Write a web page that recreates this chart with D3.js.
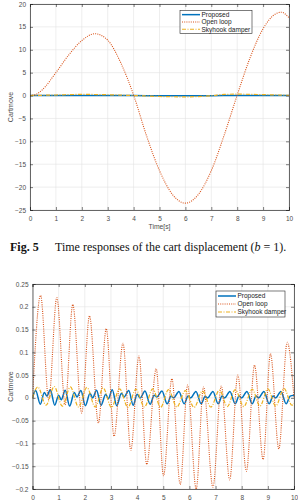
<!DOCTYPE html>
<meta charset="utf-8">
<style>
    body { margin: 0; background: #fff; }
    svg { display: block; }
    .tick text, .lbl { font-family: "Liberation Sans", Arial, sans-serif; fill: #4d4d4d; }
    .leg text { font-family: "Liberation Sans", Arial, sans-serif; fill: #1a1a1a; font-size: 6.5px; }
    .cap { font-family: "Liberation Serif", "Times New Roman", serif; font-size: 12px; fill: #111; }
</style>
<body>
<div id="main"></div>
<script src="https://cdn.jsdelivr.net/npm/d3@7/dist/d3.min.js"></script>
<script>
// ---- top chart: cart displacement (b = 1) ----
var topOpenT = [0, 0.25, 0.5, 1, 1.5, 2, 2.5, 3, 3.5, 4, 4.5, 5, 5.5, 6, 6.5, 7, 7.5, 8, 8.5, 9, 9.5, 9.7, 10];
var topOpenV = [0, 0.3, 1.4, 5.0, 8.9, 12.0, 13.5, 12.1, 7.2, 0.1, -8.8, -16.4, -21.6, -23.5, -21.6, -16.4, -8.6, 0.1, 8.3, 14.6, 17.9, 18.2, 17.0];
var topPropT = [0, 1, 2, 3, 4, 5, 6, 7, 8, 9, 10];
var topPropV = [0, 0.02, 0.03, 0.02, 0, -0.03, -0.04, -0.02, 0.02, 0.03, 0.02];
var topSkyT = [0, 1, 2, 3, 4, 5, 6, 7, 7.5, 8, 9, 10];
var topSkyV = [0, 0.12, 0.25, 0.18, 0, -0.2, -0.28, -0.05, 0.25, 0.3, 0.2, 0.05];

// ---- bottom chart ----
var botOpenT = [0, 0.31, 0.62, 0.93, 1.25, 1.54, 1.88, 2.18, 2.52, 2.82, 3.12, 3.46, 3.76, 4.07, 4.37, 4.73, 5.01, 5.33, 5.65, 5.93, 6.26, 6.54, 6.9, 7.22, 7.54, 7.85, 8.18, 8.49, 8.82, 9.1, 9.42, 9.74, 10];
var botOpenV = [0, 0.225, -0.004, 0.22, -0.015, 0.205, -0.033, 0.18, -0.055, 0.152, -0.084, 0.12, -0.115, 0.092, -0.146, 0.064, -0.171, 0.042, -0.19, 0.028, -0.2, 0.024, -0.196, 0.026, -0.18, 0.05, -0.161, 0.072, -0.135, 0.097, -0.112, 0.122, 0.0];
var botSkyT = [0, 0.2, 0.52, 0.83, 1.14, 1.45, 1.76, 2.08, 2.4, 2.7, 3.02, 3.33, 3.65, 3.95, 4.28, 4.6, 4.9, 5.2, 5.52, 5.85, 6.18, 6.5, 6.82, 7.15, 7.45, 7.75, 8.08, 8.4, 8.7, 9.0, 9.3, 9.62, 9.92, 10];
var botSkyV = [0, 0.024, -0.016, 0.025, -0.018, 0.024, -0.02, 0.023, -0.02, 0.022, -0.021, 0.02, -0.021, 0.019, -0.02, 0.02, -0.021, 0.018, -0.02, 0.016, -0.021, 0.015, -0.02, 0.017, -0.019, 0.018, -0.019, 0.019, -0.018, 0.02, -0.018, 0.021, -0.016, -0.012];
var botPropT = [0, 0.12, 0.3, 0.45, 0.55, 0.68, 0.85, 1.0, 1.1, 1.25, 1.42, 1.6, 1.7, 1.85, 2.02, 2.2, 2.3, 2.45, 2.62, 2.8, 2.9, 3.05, 3.22, 3.4, 3.5, 3.68, 3.85, 4.0, 4.12, 4.3, 4.5, 4.65, 4.75, 4.95, 5.15, 5.3, 5.4, 5.6, 5.8, 5.95, 6.05, 6.25, 6.45, 6.6, 6.7, 6.9, 7.1, 7.25, 7.35, 7.55, 7.75, 7.9, 8.0, 8.2, 8.4, 8.55, 8.65, 8.85, 9.05, 9.2, 9.3, 9.5, 9.7, 9.85, 10];
var botPropV = [0, 0.016, -0.014, 0.012, 0.004, 0.018, -0.016, 0.006, -0.004, 0.017, -0.018, 0.012, 0.002, 0.016, -0.017, 0.01, 0.0, 0.017, -0.016, 0.008, -0.002, 0.018, -0.017, 0.01, 0.002, 0.016, -0.016, 0.008, 0.0, 0.015, -0.014, 0.006, 0.002, 0.015, -0.013, 0.004, 0.0, 0.014, -0.013, 0.004, 0.0, 0.014, -0.013, 0.003, 0.0, 0.014, -0.013, 0.004, 0.0, 0.014, -0.013, 0.004, 0.0, 0.014, -0.013, 0.004, 0.0, 0.014, -0.013, 0.004, 0.0, 0.014, -0.013, 0.004, 0.006];

var xTicks = [0, 1, 2, 3, 4, 5, 6, 7, 8, 9, 10];
var topYTicks = [-25, -20, -15, -10, -5, 0, 5, 10, 15, 20];
var botYTicks = [-0.2, -0.15, -0.1, -0.05, 0, 0.05, 0.1, 0.15, 0.2, 0.25];
var legendNames = ["Proposed", "Open loop", "Skyhook damper"];

var colors = { prop: "#0072BD", open: "#D95319", sky: "#EDB120" };

var svg = d3.select("#main").append("svg")
    .attr("width", 298)
    .attr("height", 502);

function zip(t, v) { return t.map(function(d, i) { return {t: d, v: v[i]}; }); }

function makeChart(o) {
    var x = d3.scaleLinear().domain([0, 10]).range([o.left, o.right]);
    var y = d3.scaleLinear().domain(o.yDomain).range([o.bottom, o.top]);
    var g = svg.append("g");

    // grid
    g.append("g").selectAll("line").data(xTicks).enter().append("line")
        .attr("x1", function(d) { return x(d); }).attr("x2", function(d) { return x(d); })
        .attr("y1", o.top).attr("y2", o.bottom)
        .attr("stroke", "#e3e3e3").attr("stroke-width", 0.6);
    g.append("g").selectAll("line").data(o.yTicks).enter().append("line")
        .attr("y1", function(d) { return y(d); }).attr("y2", function(d) { return y(d); })
        .attr("x1", o.left).attr("x2", o.right)
        .attr("stroke", "#e3e3e3").attr("stroke-width", 0.6);

    // lines
    var clipId = "clip" + o.id;
    g.append("clipPath").attr("id", clipId).append("rect")
        .attr("x", o.left).attr("y", o.top - 1)
        .attr("width", o.right - o.left).attr("height", o.bottom - o.top + 2);
    var line = d3.line()
        .x(function(d) { return x(d.t); })
        .y(function(d) { return y(d.v); })
        .curve(d3.curveMonotoneX);
    var lg = g.append("g").attr("clip-path", "url(#" + clipId + ")");
    lg.append("path").datum(zip(o.propT, o.propV)).attr("d", line)
        .attr("fill", "none").attr("stroke", colors.prop).attr("stroke-width", 1.5);
    lg.append("path").datum(zip(o.openT, o.openV)).attr("d", line)
        .attr("fill", "none").attr("stroke", colors.open).attr("stroke-width", 1.1)
        .attr("stroke-dasharray", "1,1.2");
    lg.append("path").datum(zip(o.skyT, o.skyV)).attr("d", line)
        .attr("fill", "none").attr("stroke", colors.sky).attr("stroke-width", 1.2)
        .attr("stroke-dasharray", "4,1.5,1,1.5");

    // axes (box with inward ticks)
    var fs = 6.5;
    var xb = g.append("g").attr("transform", "translate(0," + o.bottom + ")")
        .call(d3.axisBottom(x).tickValues(xTicks).tickSize(-3).tickPadding(6).tickFormat(d3.format("d")));
    var xt = g.append("g").attr("transform", "translate(0," + o.top + ")")
        .call(d3.axisTop(x).tickValues(xTicks).tickSize(-3).tickFormat(""));
    var yl = g.append("g").attr("transform", "translate(" + o.left + ",0)")
        .call(d3.axisLeft(y).tickValues(o.yTicks).tickSize(-3).tickPadding(4).tickFormat(function(d) { return d3.format("")(+d.toFixed(2)); }));
    var yr = g.append("g").attr("transform", "translate(" + o.right + ",0)")
        .call(d3.axisRight(y).tickValues(o.yTicks).tickSize(-3).tickFormat(""));
    [xb, xt, yl, yr].forEach(function(a) {
        a.select(".domain").attr("stroke", "#262626").attr("stroke-width", 0.7);
        a.selectAll(".tick line").attr("stroke", "#262626").attr("stroke-width", 0.6);
        a.selectAll(".tick text").attr("font-size", fs).attr("font-family", null);
    });

    if (o.xLabel) {
        g.append("text").attr("class", "lbl")
            .attr("x", (o.left + o.right) / 2).attr("y", o.bottom + 18.5)
            .attr("text-anchor", "middle").attr("font-size", 6.8).text(o.xLabel);
    }
    g.append("text").attr("class", "lbl")
        .attr("transform", "translate(" + 12.5 + "," + ((o.top + o.bottom) / 2) + ") rotate(-90)")
        .attr("text-anchor", "middle").attr("font-size", 7).text("Cartmove");

    // legend
    var leg = g.append("g").attr("class", "leg");
    leg.append("rect").attr("x", o.leg.x).attr("y", o.leg.y)
        .attr("width", o.leg.w).attr("height", o.leg.h)
        .attr("fill", "#fff").attr("stroke", "#262626").attr("stroke-width", 0.6);
    var styles = [
        {c: colors.prop, w: 1.5, d: null},
        {c: colors.open, w: 1.1, d: "1,1.2"},
        {c: colors.sky, w: 1.2, d: "4,1.5,1,1.5"}
    ];
    legendNames.forEach(function(name, i) {
        var yy = o.leg.y + o.leg.step * (i + 0.5) + o.leg.pad;
        leg.append("line").attr("x1", o.leg.x + 2).attr("x2", o.leg.x + 20)
            .attr("y1", yy).attr("y2", yy)
            .attr("stroke", styles[i].c).attr("stroke-width", styles[i].w)
            .attr("stroke-dasharray", styles[i].d);
        leg.append("text").attr("x", o.leg.x + 21.5).attr("y", yy + 2.3).text(name);
    });
}

makeChart({
    id: 1, left: 30, right: 289, top: 4, bottom: 210,
    yDomain: [-25, 20], yTicks: topYTicks, xLabel: "Time[s]",
    openT: topOpenT, openV: topOpenV, propT: topPropT, propV: topPropV, skyT: topSkyT, skyV: topSkyV,
    leg: {x: 180, y: 10.5, w: 72, h: 23, step: 7.3, pad: 0.5}
});

makeChart({
    id: 2, left: 32.5, right: 294, top: 284, bottom: 489,
    yDomain: [-0.2, 0.25], yTicks: botYTicks, xLabel: null,
    openT: botOpenT, openV: botOpenV, propT: botPropT, propV: botPropV, skyT: botSkyT, skyV: botSkyV,
    leg: {x: 216, y: 291, w: 69, h: 26, step: 8, pad: 1}
});

// caption
var cap = svg.append("text").attr("class", "cap").attr("x", 10).attr("y", 251);
cap.append("tspan").attr("font-weight", "bold").text("Fig. 5");
cap.append("tspan").attr("x", 55).text("Time responses of the cart displacement (");
cap.append("tspan").attr("font-style", "italic").text("b");
cap.append("tspan").text(" = 1).");
</script>
</body>
